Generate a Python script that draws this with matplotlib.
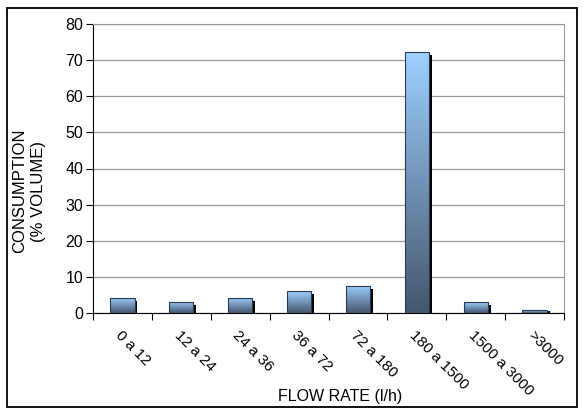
import numpy as np
import matplotlib.pyplot as plt
import matplotlib.transforms as mtransforms
from matplotlib.patches import Rectangle
from matplotlib.colors import LinearSegmentedColormap

plt.rcParams['font.family'] = ['Liberation Sans', 'DejaVu Sans']

# data
categories = ['0 a 12', '12 a 24', '24 a 36', '36 a 72', '72 a 180',
              '180 a 1500', '1500 a 3000', '>3000']
consumption = [4.2, 3.1, 4.2, 6.0, 7.5, 72.2, 3.0, 0.7]

fig = plt.figure(figsize=(5.84, 4.08), dpi=100)
ax = fig.add_axes([93 / 584, 1 - 313 / 408, (564 - 93) / 584, (313 - 24) / 408])

# outer frame
fig.patches.append(Rectangle((7 / 584, 0.002), 570 / 584, 1 - 8 / 408 - 0.002,
                             transform=fig.transFigure, fill=False,
                             edgecolor='black', linewidth=1.3))

cmap = LinearSegmentedColormap.from_list('bar', ['#44566e', '#9fd0ff'])
grad = np.linspace(0, 1, 256).reshape(-1, 1)
width = 0.41
x = np.arange(len(categories))

for xi, v in zip(x, consumption):
    # shadow
    ax.add_patch(Rectangle((xi - width / 2 + 0.05, 0), width, v - 0.8 if v > 1 else v * 0.6,
                           facecolor='black', edgecolor='none', zorder=2))
    bar = Rectangle((xi - width / 2, 0), width, v, facecolor='none',
                    edgecolor='#2b3a4f', linewidth=0.8, zorder=4)
    ax.add_patch(bar)
    im = ax.imshow(grad, cmap=cmap, aspect='auto', origin='lower',
                   extent=(xi - width / 2, xi + width / 2, 0, v), zorder=3)
    im.set_clip_path(bar)

ax.set_xlim(-0.5, len(categories) - 0.5)
ax.set_ylim(0, 80)
ax.set_yticks(range(0, 81, 10))
ax.yaxis.grid(True, color='#999999', linewidth=0.9)
ax.set_axisbelow(True)

ax.set_xticks(np.arange(len(categories) + 1) - 0.5)
ax.set_xticklabels([])
ax.set_xticks(x, minor=True)
ax.set_xticklabels(categories, minor=True, rotation=-45, ha='left', va='top',
                   rotation_mode='anchor', fontsize=11)
shift = mtransforms.ScaledTranslation(5 / 72, 0, fig.dpi_scale_trans)
for lab in ax.get_xticklabels(minor=True):
    lab.set_transform(lab.get_transform() + shift)
ax.tick_params(axis='x', which='minor', length=0, pad=11)
ax.tick_params(axis='x', which='major', length=5, direction='out')
ax.tick_params(axis='y', length=5, labelsize=11.5, direction='out', pad=2)

for s in ['top', 'right']:
    ax.spines[s].set_color('#999999')
ax.spines['left'].set_color('black')
ax.spines['bottom'].set_color('black')

fig.text(29 / 584, 1 - 191 / 408, 'CONSUMPTION\n(% VOLUME)', rotation=90,
         ha='center', va='center', fontsize=12, linespacing=1.25)
fig.text(340 / 584, 1 - 396 / 408, 'FLOW RATE (l/h)', ha='center', va='center',
         fontsize=11.5)

fig.savefig('out.png', dpi=100)
